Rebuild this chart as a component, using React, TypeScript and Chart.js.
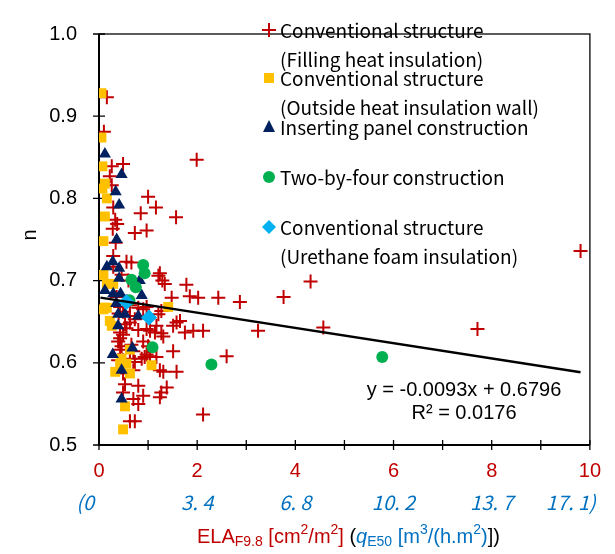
import React, { useEffect, useRef } from 'react';
import { Chart, registerables } from 'chart.js';

Chart.register(...registerables);

// Conventional structure (Filling heat insulation) - red crosses
const redX = [
  0.16, 0.10, 0.26, 0.49, 0.22, 1.99, 0.26, 1.00, 1.16, 0.85, 1.57, 0.29, 0.33, 0.37, 0.28, 0.73, 0.97, 0.34,
  0.29, 0.56, 0.66, 0.29, 0.46, 1.24, 1.21, 1.29, 1.34, 1.78, 1.48, 1.85, 2.02, 2.43, 2.87, 3.76,
  0.63, 0.80, 0.90, 0.97, 1.27, 1.21, 0.43, 0.49, 0.73, 0.63, 0.53, 0.63, 0.56, 1.04, 0.97, 1.17, 1.14, 1.58, 1.51, 1.27, 1.31, 1.75, 1.92, 2.12,
  0.43, 0.49, 0.43, 0.39, 0.46, 0.43, 0.66, 0.70, 1.51, 1.04, 0.93, 0.87, 1.17, 0.63, 0.49, 0.73, 1.24, 1.31, 1.58, 0.39, 0.70, 0.49, 0.53, 0.80, 0.49, 0.90, 0.70, 0.80, 1.27, 1.38, 1.24, 0.63, 0.73, 2.12, 2.60,
  4.31, 9.81, 4.57, 7.71, 3.24, 1.65, 0.90, 0.97, 0.60, 0.36, 0.40, 0.56, 0.80, 1.00,
];
const redY = [
  0.923, 0.881, 0.839, 0.842, 0.827, 0.847, 0.816, 0.802, 0.789, 0.782, 0.777, 0.789, 0.774, 0.769, 0.763, 0.758, 0.761, 0.746,
  0.730, 0.723, 0.722, 0.717, 0.707, 0.709, 0.706, 0.700, 0.696, 0.695, 0.679, 0.681, 0.679, 0.679, 0.674, 0.680,
  0.670, 0.667, 0.665, 0.668, 0.663, 0.659, 0.668, 0.662, 0.653, 0.657, 0.647, 0.649, 0.642, 0.639, 0.641, 0.645, 0.637, 0.649, 0.645, 0.636, 0.632, 0.637, 0.639, 0.639,
  0.637, 0.634, 0.630, 0.626, 0.620, 0.616, 0.622, 0.614, 0.614, 0.608, 0.607, 0.605, 0.607, 0.605, 0.603, 0.601, 0.591, 0.589, 0.589, 0.603, 0.591, 0.587, 0.574, 0.572, 0.564, 0.560, 0.556, 0.550, 0.564, 0.570, 0.558, 0.529, 0.529, 0.537, 0.608,
  0.699, 0.736, 0.643, 0.641, 0.639, 0.651, 0.626, 0.610, 0.700, 0.680, 0.660, 0.675, 0.640, 0.620,
];

// Conventional structure (Outside heat insulation wall) - yellow squares
const yellowX = [0.05, 0.05, 0.07, 0.12, 0.07, 0.16, 0.12, 0.09, 0.09, 0.16, 0.29, 0.09, 0.16, 1.41, 0.22, 0.26, 0.63, 0.46, 0.56, 0.33, 0.63, 1.07, 0.53, 0.49, 0.43, 0.12];
const yellowY = [0.928, 0.874, 0.839, 0.818, 0.812, 0.800, 0.778, 0.748, 0.707, 0.696, 0.696, 0.665, 0.667, 0.668, 0.651, 0.645, 0.616, 0.605, 0.599, 0.589, 0.587, 0.597, 0.547, 0.519, 0.599, 0.667];

// Inserting panel construction - navy triangles
const navyX = [0.12, 0.46, 0.34, 0.41, 0.36, 0.28, 0.16, 0.41, 0.41, 0.12, 0.29, 0.44, 0.83, 0.87, 0.35, 0.39, 0.53, 0.80, 0.39, 0.68, 0.28, 0.46, 0.46];
const navyY = [0.854, 0.829, 0.808, 0.792, 0.750, 0.723, 0.717, 0.715, 0.703, 0.688, 0.684, 0.684, 0.700, 0.682, 0.672, 0.659, 0.659, 0.657, 0.645, 0.618, 0.610, 0.591, 0.556];

// Two-by-four construction - green circles
const greenX = [0.90, 0.93, 0.66, 0.75, 0.62, 1.09, 2.29, 5.77];
const greenY = [0.719, 0.709, 0.701, 0.692, 0.676, 0.619, 0.598, 0.607];

// Conventional structure (Urethane foam insulation) - cyan diamonds
const cyanX = [0.56, 1.02];
const cyanY = [0.674, 0.655];

// Linear trendline endpoints (y = -0.0093x + 0.6796)
const trendX = [0.03, 9.81];
const trendY = [0.6793, 0.5884];

const xTickValues = [0, 2, 4, 6, 8, 10];
const xTickLabels = ['0', '2', '4', '6', '8', '10'];
const qTickLabels = ['(0', '3. 4', '6. 8', '10. 2', '13. 7', '17. 1)'];
const yTickValues = [0.5, 0.6, 0.7, 0.8, 0.9, 1.0];

const legendLines = [
  ['cross', 'Conventional structure'],
  ['', '(Filling heat insulation)'],
  ['rect', 'Conventional structure'],
  ['', '(Outside heat insulation wall)'],
  ['triangle', 'Inserting panel construction'],
  ['', ''],
  ['circle', 'Two-by-four construction'],
  ['', ''],
  ['diamond', 'Conventional structure'],
  ['', '(Urethane foam insulation)'],
];
const equationText = 'y = -0.0093x + 0.6796';
const r2Text = 'R² = 0.0176';

const RED = '#C00000';
const YELLOW = '#FFC000';
const NAVY = '#002060';
const GREEN = '#00B050';
const CYAN = '#00B0F0';
const BLUE = '#0070C0';
const ARIAL = '"Liberation Sans", Arial, sans-serif';
const JP = '"Noto Sans CJK JP", "Noto Sans", sans-serif';

const pts = (xs: number[], ys: number[]) => xs.map((x, i) => ({ x, y: ys[i] }));

function drawMarker(ctx: CanvasRenderingContext2D, kind: string, x: number, y: number) {
  ctx.save();
  if (kind === 'cross') {
    ctx.strokeStyle = RED;
    ctx.lineWidth = 2;
    ctx.beginPath();
    ctx.moveTo(x - 7, y); ctx.lineTo(x + 7, y);
    ctx.moveTo(x, y - 7); ctx.lineTo(x, y + 7);
    ctx.stroke();
  } else if (kind === 'rect') {
    ctx.fillStyle = YELLOW;
    ctx.fillRect(x - 5, y - 5, 10, 10);
  } else if (kind === 'triangle') {
    ctx.fillStyle = NAVY;
    ctx.beginPath();
    ctx.moveTo(x, y - 7); ctx.lineTo(x + 6, y + 5); ctx.lineTo(x - 6, y + 5);
    ctx.closePath(); ctx.fill();
  } else if (kind === 'circle') {
    ctx.fillStyle = GREEN;
    ctx.beginPath(); ctx.arc(x, y, 6, 0, Math.PI * 2); ctx.fill();
  } else if (kind === 'diamond') {
    ctx.fillStyle = CYAN;
    ctx.beginPath();
    ctx.moveTo(x, y - 7); ctx.lineTo(x + 7, y); ctx.lineTo(x, y + 7); ctx.lineTo(x - 7, y);
    ctx.closePath(); ctx.fill();
  }
  ctx.restore();
}

const framePlugin = {
  id: 'frame',
  beforeDatasetsDraw(chart: any) {
    const { ctx, chartArea: a, scales } = chart;
    ctx.save();
    ctx.strokeStyle = '#262626';
    ctx.lineWidth = 1.5;
    ctx.beginPath();
    ctx.moveTo(a.left, a.top); ctx.lineTo(a.right, a.top); ctx.lineTo(a.right, a.bottom);
    ctx.stroke();
    ctx.strokeStyle = '#000';
    ctx.lineWidth = 2;
    ctx.beginPath();
    ctx.moveTo(a.left, a.top); ctx.lineTo(a.left, a.bottom); ctx.lineTo(a.right, a.bottom);
    ctx.stroke();
    ctx.lineWidth = 1.3;
    ctx.beginPath();
    yTickValues.forEach((v) => {
      const p = scales.y.getPixelForValue(v);
      ctx.moveTo(a.left - 6, p); ctx.lineTo(a.left + 6, p);
    });
    for (let v = 0; v <= 10; v++) {
      const p = scales.x.getPixelForValue(v);
      ctx.moveTo(p, a.bottom - 5); ctx.lineTo(p, a.bottom + 5);
    }
    ctx.stroke();
    ctx.restore();
  },
  afterDraw(chart: any) {
    const { ctx, chartArea: a, scales } = chart;
    ctx.save();
    // Legend
    ctx.font = `19px ${JP}`;
    ctx.textBaseline = 'middle';
    ctx.textAlign = 'left';
    ctx.fillStyle = '#000';
    const legendTop = [31, 60, 79, 108, 128, 153, 178, 203, 228, 257];
    legendLines.forEach(([kind, text], i) => {
      const y = legendTop[i];
      if (kind) drawMarker(ctx, kind, 269, y - 1);
      if (text) ctx.fillText(text, 280, y);
    });
    // Trendline equation
    ctx.font = `20px ${ARIAL}`;
    ctx.textAlign = 'center';
    ctx.fillText(equationText, 464, 390);
    ctx.fillText(r2Text, 464, 413);
    // Second row of x tick labels (q_E50)
    ctx.font = `italic 20px ${JP}`;
    ctx.fillStyle = BLUE;
    xTickValues.forEach((v, i) => {
      const p = scales.x.getPixelForValue(v);
      const label = qTickLabels[i];
      if (i === 0) { ctx.textAlign = 'right'; ctx.fillText(label, p - 5, 502); }
      else if (i === xTickValues.length - 1) { ctx.textAlign = 'right'; ctx.fillText(label, p + 6, 502); }
      else { ctx.textAlign = 'center'; ctx.fillText(label, p, 502); }
    });
    // X axis title
    const big = `20px ${ARIAL}`;
    const small = `14px ${ARIAL}`;
    const segs: [string, string, string, number][] = [
      ['ELA', RED, big, 0],
      ['F9.8', RED, small, 5],
      [' [cm', RED, big, 0],
      ['2', RED, small, -7],
      ['/m', RED, big, 0],
      ['2', RED, small, -7],
      [']', RED, big, 0],
      [' (', '#000', big, 0],
      ['q', BLUE, `italic 20px ${ARIAL}`, 0],
      ['E50', BLUE, small, 5],
      [' [m', BLUE, big, 0],
      ['3', BLUE, small, -7],
      ['/(h.m', BLUE, big, 0],
      ['2', BLUE, small, -7],
      [')', BLUE, big, 0],
      ['])', '#000', big, 0],
    ];
    let total = 0;
    segs.forEach(([t, , f]) => { ctx.font = f; total += ctx.measureText(t).width; });
    let x = (a.left + a.right) / 2 - total / 2 + 4;
    ctx.textAlign = 'left';
    segs.forEach(([t, c, f, dy]) => {
      ctx.font = f; ctx.fillStyle = c;
      ctx.fillText(t, x, 537 + dy);
      x += ctx.measureText(t).width;
    });
    // Y axis title
    ctx.translate(30, 235);
    ctx.rotate(-Math.PI / 2);
    ctx.font = `20px ${ARIAL}`;
    ctx.fillStyle = '#000';
    ctx.textAlign = 'center';
    ctx.fillText('n', 0, 0);
    ctx.restore();
  },
};

export default function App() {
  const ref = useRef<HTMLCanvasElement>(null);
  useEffect(() => {
    if (!ref.current) return;
    const chart = new Chart(ref.current, {
      type: 'scatter',
      data: {
        datasets: [
          {
            label: 'Conventional structure (Filling heat insulation)',
            data: pts(redX, redY),
            pointStyle: 'cross', pointRadius: 7, pointBorderWidth: 2,
            pointBorderColor: RED, pointBackgroundColor: RED, order: 5,
          },
          {
            label: 'Conventional structure (Outside heat insulation wall)',
            data: pts(yellowX, yellowY),
            pointStyle: 'rect', pointRadius: 7, pointBorderWidth: 0,
            pointBorderColor: YELLOW, pointBackgroundColor: YELLOW, order: 4,
          },
          {
            label: 'Inserting panel construction',
            data: pts(navyX, navyY),
            pointStyle: 'triangle', pointRadius: 7, pointBorderWidth: 0,
            pointBorderColor: NAVY, pointBackgroundColor: NAVY, order: 3,
          },
          {
            label: 'Two-by-four construction',
            data: pts(greenX, greenY),
            pointStyle: 'circle', pointRadius: 6, pointBorderWidth: 0,
            pointBorderColor: GREEN, pointBackgroundColor: GREEN, order: 2,
          },
          {
            label: 'Conventional structure (Urethane foam insulation)',
            data: pts(cyanX, cyanY),
            pointStyle: 'rectRot', pointRadius: 8, pointBorderWidth: 0,
            pointBorderColor: CYAN, pointBackgroundColor: CYAN, order: 1,
          },
          {
            label: 'Linear trend',
            data: pts(trendX, trendY),
            showLine: true, borderColor: '#000', borderWidth: 2.5,
            pointRadius: 0, order: 0,
          },
        ],
      },
      options: {
        animation: false,
        responsive: false,
        devicePixelRatio: 1,
        layout: { padding: { top: 15, right: 24, left: 0, bottom: 0 } },
        plugins: { legend: { display: false }, tooltip: { enabled: false } },
        scales: {
          x: {
            type: 'linear', min: 0, max: 10,
            afterFit: (s: any) => { s.height = 109; },
            grid: { display: false, drawTicks: false },
            border: { display: false },
            ticks: {
              stepSize: 1, autoSkip: false, maxRotation: 0, padding: 14,
              color: RED, font: { size: 20, family: ARIAL },
              callback: (v: any) => {
                const i = xTickValues.indexOf(Number(v));
                return i >= 0 ? xTickLabels[i] : '';
              },
            },
          },
          y: {
            type: 'linear', min: 0.5, max: 1.0,
            afterFit: (s: any) => { s.width = 99; },
            grid: { display: false, drawTicks: false },
            border: { display: false },
            ticks: {
              stepSize: 0.1, padding: 22,
              color: '#000', font: { size: 20, family: ARIAL },
              callback: (v: any) => Number(v).toFixed(1),
            },
          },
        },
      },
      plugins: [framePlugin],
    });
    return () => chart.destroy();
  }, []);
  return (
    <div style={{ position: 'fixed', left: 0, top: 0, width: 615, height: 554, background: '#fff' }}>
      <canvas ref={ref} width={615} height={554} style={{ display: 'block' }} />
    </div>
  );
}
